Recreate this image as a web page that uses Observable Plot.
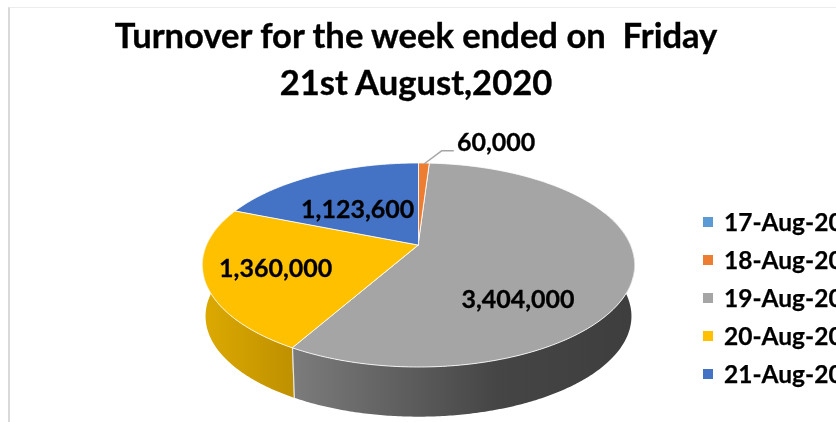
<!DOCTYPE html>
<html><head><meta charset="utf-8">
<style>
html,body{margin:0;padding:0;background:#fff}
#page{position:relative;width:836px;height:422px;overflow:hidden;background:#fff;font-family:Lato,sans-serif;font-weight:700;color:#000;filter:blur(0.4px)}
#frame{position:absolute;left:8px;top:7px;right:0;bottom:0;border-left:2px solid #d9d9d9;border-top:1px solid #ececec}
#title{position:absolute;left:0;top:0;width:832px;height:120px;text-align:center;font-size:34.6px;line-height:47px;padding-top:11px;box-sizing:border-box;white-space:pre;-webkit-text-stroke:0.35px #000}
#chart{position:absolute;left:0;top:120px}
#legend{position:absolute;left:703px;top:203px;font-size:24.5px;white-space:nowrap;-webkit-text-stroke:0.25px #000}
.row{height:38px;line-height:38px;display:flex;align-items:center}
.sw{width:10px;height:10px;margin-right:11px;flex:none}
</style>
<script src="https://cdn.jsdelivr.net/npm/d3@7"></script>
<script src="https://cdn.jsdelivr.net/npm/@observablehq/plot@0.6"></script>
</head><body><div id="page"><div id="frame"></div>
<div id="title">Turnover for the week ended on  Friday
21st August,2020</div>
<div id="chart"></div><div id="legend"></div></div>
<script>
const dates = ["17-Aug-20","18-Aug-20","19-Aug-20","20-Aug-20","21-Aug-20"];
const values = [0, 60000, 3404000, 1360000, 1123600];
const colors = ["#5b9bd5","#ed7d31","#a5a5a5","#ffc000","#4472c4"];

// Tilted disc: persp is the perspective factor, tilt the foreshortening.
const persp = 0.196, tilt = 0.4627, squeeze = 0.985, depth = 51.5 / 212;
const project = (a, f = 1) => {
  const u = f * Math.sin(a), v = -f * Math.cos(a), w = 1 - persp * v;
  return {x: u / w, y: tilt * v / w};
};
const lower = (p) => ({x: p.x * squeeze, y: p.y * squeeze + depth});
const arcs = d3.pie().sort(null).value(d => d)(values);
const sweep = (a0, a1) => {
  const n = Math.max(2, Math.ceil((a1 - a0) / 0.01));
  return d3.range(n + 1).map(i => a0 + (a1 - a0) * i / n);
};
const faceRows = (arc) => sweep(arc.startAngle, arc.endAngle).map(a => {
  const p = project(a);
  return {x1: 0, y1: 0, x2: p.x, y2: p.y};
});
const wallRows = (a0, a1) => sweep(a0, a1).map(a => {
  const p = project(a), q = lower(p);
  return {x1: p.x, y1: p.y, x2: q.x, y2: q.y};
});
const areaOpts = (fill, stroke, sw) => ({x1: "x1", y1: "y1", x2: "x2", y2: "y2", fill, stroke, strokeWidth: sw, strokeOpacity: 0.85});

const rad = Math.PI / 180;
const grayArc = arcs[2], yellowArc = arcs[3];
const marks = [];
marks.push(Plot.area(wallRows(70 * rad, grayArc.endAngle), areaOpts("url(#wallGray)", "none", 0)));
marks.push(Plot.area(wallRows(yellowArc.startAngle, 285 * rad), areaOpts("url(#wallYellow)", "none", 0)));
const seam = lower(project(grayArc.endAngle)), seamTop = project(grayArc.endAngle);
marks.push(Plot.line([seamTop, seam], {x: "x", y: "y", stroke: "#fff", strokeWidth: 1.2, strokeOpacity: 0.8}));
arcs.forEach((arc, i) => {
  if (values[i] > 0) marks.push(Plot.area(faceRows(arc), areaOpts(colors[i], "#fff", 1)));
});
// leader for the small slice
const small = arcs[1], smallMid = project((small.startAngle + small.endAngle) / 2);
marks.push(Plot.line([smallMid, {x: smallMid.x + 0.08, y: smallMid.y - 0.06}, {x: smallMid.x + 0.135, y: smallMid.y - 0.06}],
  {x: "x", y: "y", stroke: "#a5a5a5", strokeWidth: 1.5, curve: "linear"}));
// labels
const labelAt = [null, 1.0, 0.62, 0.62, 0.62];
arcs.forEach((arc, i) => {
  if (values[i] === 0) return;
  const p = project((arc.startAngle + arc.endAngle) / 2, labelAt[i]);
  const nudge = {1: [71.5, -21], 2: [-31.5, 36], 3: [-14, 3], 4: [5.5, 10]}[i];
  marks.push(Plot.text([p], {x: "x", y: "y", text: () => d3.format(",")(values[i]), dx: nudge[0], dy: nudge[1],
    fontSize: 25, fontWeight: 700, fontFamily: "Lato, sans-serif", fill: "#000", stroke: "#000", strokeWidth: 0.3}));
});
const plot = Plot.plot({
  width: 836, height: 302, margin: 0,
  style: {background: "transparent", overflow: "visible"},
  x: {domain: [-1, 1], range: [206.5, 630.5], axis: null},
  y: {domain: [-1, 1], range: [125 - 212, 125 + 212], axis: null},
  marks
});
const defs = d3.select(plot).insert("defs", ":first-child");
const grad = (id, stops) => {
  const g = defs.append("linearGradient").attr("id", id).attr("x1", 0).attr("x2", 1).attr("y1", 0).attr("y2", 0);
  stops.forEach(([o, c]) => g.append("stop").attr("offset", o).attr("stop-color", c));
};
grad("wallGray", [[0, "#7c7c7c"], [0.6, "#454545"], [1, "#3e3e3e"]]);
grad("wallYellow", [[0, "#dcaa00"], [1, "#bf9000"]]);
document.getElementById("chart").append(plot);
const legend = d3.select("#legend");
dates.forEach((d, i) => {
  const r = legend.append("div").attr("class", "row");
  r.append("div").attr("class", "sw").style("background", colors[i]);
  r.append("span").text(d.replace("-20", "-2020"));
});
</script></body></html>
